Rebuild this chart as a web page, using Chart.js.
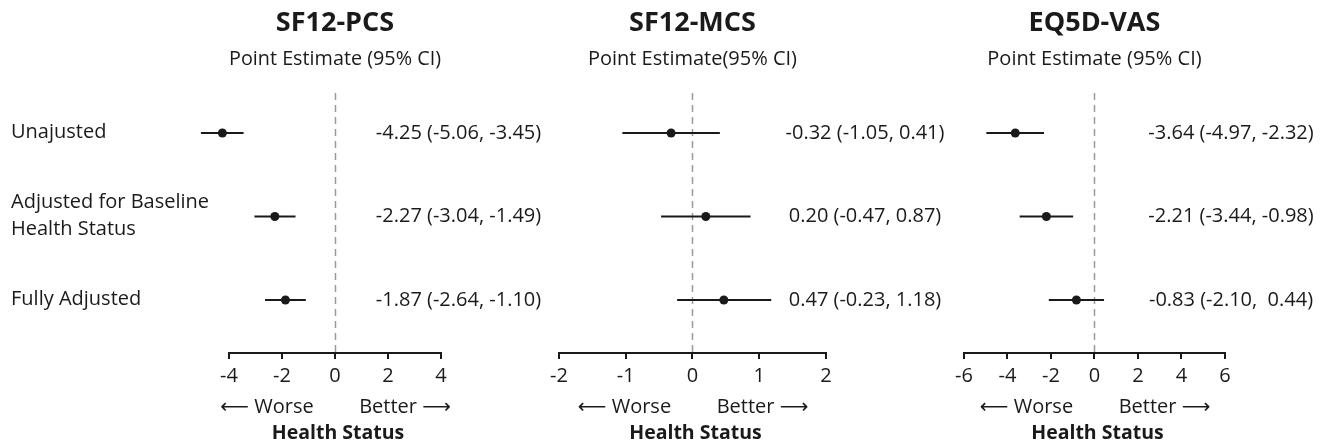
<!DOCTYPE html>
<html>
<head>
<meta charset="utf-8">
<script src="https://cdn.jsdelivr.net/npm/chart.js@4.4.1/dist/chart.umd.min.js"></script>
<style>
  html, body { margin: 0; padding: 0; background: #fff; }
  #wrap { position: relative; width: 1332px; height: 447px; overflow: hidden; }
  canvas { position: absolute; top: 0; }
</style>
</head>
<body>
<div id="wrap">
  <canvas id="pcs" width="545" height="447" style="left:0"></canvas>
  <canvas id="mcs" width="405" height="447" style="left:545px"></canvas>
  <canvas id="vas" width="382" height="447" style="left:950px"></canvas>
</div>
<script>
// rows (top to bottom)
const rows = [1, 2, 3];
const rowLabels = [['Unajusted'], ['Adjusted for Baseline', 'Health Status'], ['Fully Adjusted']];

// SF12-PCS
const pcsEst = [-4.25, -2.27, -1.87];
const pcsLow = [-5.06, -3.04, -2.64];
const pcsHigh = [-3.45, -1.49, -1.10];
const pcsText = ['-4.25 (-5.06, -3.45)', '-2.27 (-3.04, -1.49)', '-1.87 (-2.64, -1.10)'];
const pcsTicks = [-4, -2, 0, 2, 4];

// SF12-MCS
const mcsEst = [-0.32, 0.20, 0.47];
const mcsLow = [-1.05, -0.47, -0.23];
const mcsHigh = [0.41, 0.87, 1.18];
const mcsText = ['-0.32 (-1.05, 0.41)', '0.20 (-0.47, 0.87)', '0.47 (-0.23, 1.18)'];
const mcsTicks = [-2, -1, 0, 1, 2];

// EQ5D-VAS
const vasEst = [-3.64, -2.21, -0.83];
const vasLow = [-4.97, -3.44, -2.10];
const vasHigh = [-2.32, -0.98, 0.44];
const vasText = ['-3.64 (-4.97, -2.32)', '-2.21 (-3.44, -0.98)', '-0.83 (-2.10,  0.44)'];
const vasTicks = [-6, -4, -2, 0, 2, 4, 6];

const ink = '#1a1a1a';
const FAMILY = "'Open Sans', 'DejaVu Sans', sans-serif";
Chart.defaults.font.family = FAMILY;
Chart.defaults.color = ink;

// dashed zero line, row labels, estimate text and the Worse/Better caption
const forestDecor = {
  id: 'forestDecor',
  beforeDatasetsDraw(chart) {
    const { ctx, chartArea: a, scales: { x } } = chart;
    const x0 = Math.round(x.getPixelForValue(0)) + 0.5;
    ctx.save();
    ctx.strokeStyle = '#9a9a9a';
    ctx.lineWidth = 1.5;
    ctx.setLineDash([7, 5]);
    ctx.beginPath();
    ctx.moveTo(x0, a.top);
    ctx.lineTo(x0, a.bottom);
    ctx.stroke();
    ctx.restore();
    // PCS estimate (-4.25) sits left of the axis range; let points outside chartArea draw
    chart._realArea = a;
    chart.chartArea = { left: 0, top: 0, right: chart.width, bottom: chart.height, width: chart.width, height: chart.height };
  },
  afterDatasetsDraw(chart) {
    if (chart._realArea) chart.chartArea = chart._realArea;
  },
  afterDraw(chart, args, opts) {
    const { ctx, chartArea: a, scales: { x, y } } = chart;
    const x0 = x.getPixelForValue(0);
    ctx.save();
    ctx.fillStyle = ink;
    ctx.textBaseline = 'middle';
    ctx.font = '20px ' + FAMILY;
    ctx.textAlign = 'center';
    opts.values.forEach((t, i) => ctx.fillText(t, opts.valueX, y.getPixelForValue(rows[i])));
    if (opts.labels) {
      ctx.textAlign = 'left';
      opts.labels.forEach((lines, i) => {
        const cy = y.getPixelForValue(rows[i]) - 1;
        lines.forEach((l, j) => ctx.fillText(l, 11, cy + (j - (lines.length - 1) / 2) * 27));
      });
    }
    ctx.textAlign = 'center';
    ctx.fillText('\u27F5 Worse', x0 - 68, a.bottom + 54);
    ctx.fillText('Better \u27F6', x0 + 70, a.bottom + 54);
    ctx.font = 'bold 19.5px ' + FAMILY;
    ctx.fillText('Health Status', x0 + 3, a.bottom + 80);
    ctx.restore();
  }
};

function makeChart(id, cfg) {
  const datasets = [{
    data: cfg.est.map((v, i) => ({ x: v, y: rows[i] })),
    pointRadius: 4.5,
    pointHoverRadius: 4.5,
    backgroundColor: ink,
    borderWidth: 0,
    clip: false
  }];
  rows.forEach((r, i) => datasets.push({
    data: [{ x: cfg.low[i], y: r }, { x: cfg.high[i], y: r }],
    showLine: true,
    borderColor: ink,
    borderWidth: 2,
    pointRadius: 0,
    clip: false
  }));

  return new Chart(document.getElementById(id), {
    type: 'scatter',
    data: { datasets },
    plugins: [forestDecor],
    options: {
      responsive: false,
      animation: false,
      events: [],
      layout: { padding: { left: cfg.padL, right: cfg.padR, top: 0, bottom: 54 } },
      scales: {
        x: {
          type: 'linear',
          min: cfg.ticks[0],
          max: cfg.ticks[cfg.ticks.length - 1],
          afterBuildTicks: s => { s.ticks = cfg.ticks.map(v => ({ value: v })); },
          afterFit: s => { s.height = 40; },
          grid: { drawOnChartArea: false, drawTicks: true, tickLength: 6, tickColor: ink, lineWidth: 2 },
          border: { display: true, color: ink, width: 2 },
          ticks: { padding: 5, color: ink, font: { size: 20 } }
        },
        y: { type: 'linear', display: false, reverse: true, min: 0.521, max: 3.635 }
      },
      plugins: {
        legend: { display: false },
        tooltip: { enabled: false },
        title: {
          display: true, text: cfg.title, fullSize: false, color: ink,
          font: { size: 27, weight: 'bold' }, padding: { top: 7, bottom: 0 }
        },
        subtitle: {
          display: true, text: cfg.subtitle, fullSize: false, color: ink,
          font: { size: 20 }, padding: { top: 7.6, bottom: 22 }
        },
        forestDecor: { values: cfg.text, valueX: cfg.valueX, labels: cfg.labels }
      }
    }
  });
}

makeChart('pcs', {
  title: 'SF12-PCS', subtitle: 'Point Estimate (95% CI)',
  est: pcsEst, low: pcsLow, high: pcsHigh, text: pcsText, ticks: pcsTicks,
  padL: 229, padR: 104, valueX: 458.5, labels: rowLabels
});
makeChart('mcs', {
  title: 'SF12-MCS', subtitle: 'Point Estimate(95% CI)',
  est: mcsEst, low: mcsLow, high: mcsHigh, text: mcsText, ticks: mcsTicks,
  padL: 12, padR: 124, valueX: 320
});
makeChart('vas', {
  title: 'EQ5D-VAS', subtitle: 'Point Estimate (95% CI)',
  est: vasEst, low: vasLow, high: vasHigh, text: vasText, ticks: vasTicks,
  padL: 11, padR: 107, valueX: 281
});
</script>
</body>
</html>
